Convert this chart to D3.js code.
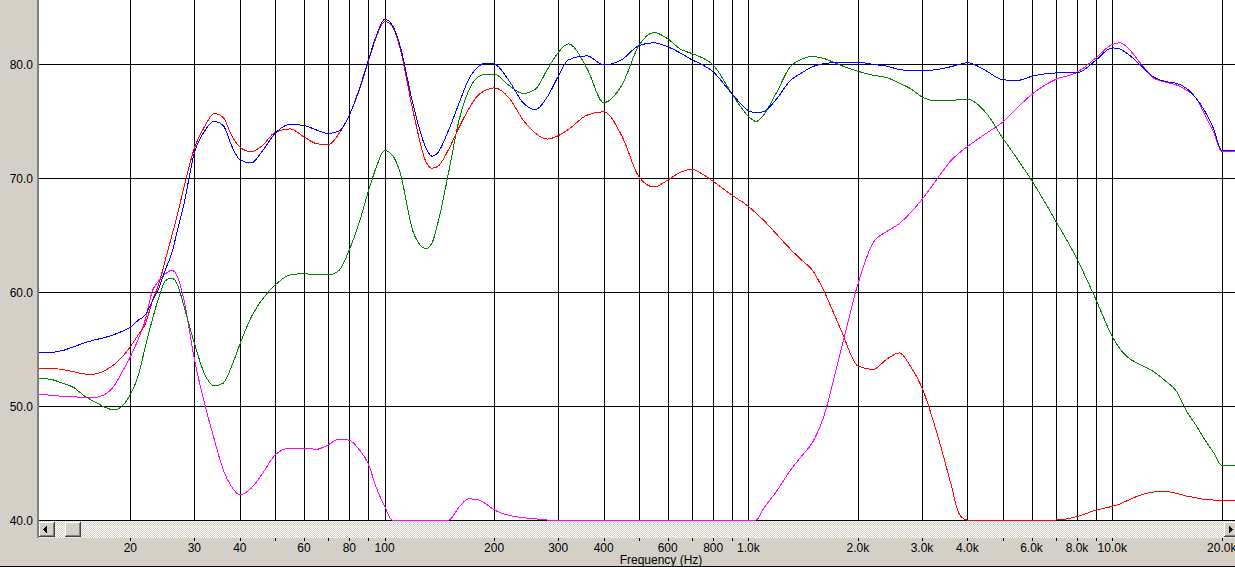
<!DOCTYPE html>
<html><head><meta charset="utf-8">
<script src="https://cdn.jsdelivr.net/npm/d3@7"></script>
<style>
html,body{margin:0;padding:0;overflow:hidden;background:#d4d0c8}
svg{display:block}
text{font-family:"Liberation Sans",Arial,sans-serif;font-size:12px;fill:#000}
</style>
</head><body>
<svg id="chart" width="1235" height="567"></svg>
<script>
// ---------- data ----------
const freqs = [11.15,12,13,14,15,16,17,18,19,20,21,22,23,24,25,26,27,28,30,32,34,36,38,40,43,46,50,55,60,65,70,75,80,85,90,95,100,105,110,120,130,135,140,150,160,170,180,190,200,220,240,260,280,300,320,360,400,450,500,550,600,650,700,750,800,900,1000,1050,1100,1200,1300,1400,1500,1600,1800,2000,2200,2400,2600,2800,3000,3300,3600,3800,4000,4500,5000,5500,6000,7000,8000,9000,10000,10500,11000,12000,13000,14000,15000,16000,17000,18000,19000,20000,21750];

const blueDb = [54.7,54.7,54.85,55.2,55.55,55.8,56.0,56.25,56.55,56.9,57.5,58.0,59.2,60.4,62.0,63.4,65.5,67.5,72.2,74.1,74.95,74.6,72.8,71.6,71.3,72.3,73.9,74.7,74.6,74.2,73.9,74.1,75.5,77.7,80.2,82.5,83.9,83.4,81.7,76.3,72.6,71.9,72.2,74.2,76.5,78.6,79.7,80.05,80.0,78.5,76.6,76.0,77.1,78.9,80.35,80.7,79.9,80.4,81.6,81.85,81.5,80.95,80.35,79.9,79.3,77.4,75.9,75.7,75.8,77.0,78.5,79.2,79.75,80.0,80.15,80.15,79.95,79.8,79.5,79.4,79.4,79.5,79.75,79.95,80.1,79.4,78.6,78.55,78.9,79.2,79.2,80.3,81.4,81.3,80.9,79.85,78.85,78.45,78.3,77.85,77.0,75.8,74.3,72.4,72.4];

const redDb = [53.3,53.3,53.2,53.0,52.8,52.8,53.1,53.6,54.3,55.2,56.2,57.2,59.2,60.8,62.9,64.9,66.9,69.0,72.6,74.5,75.65,75.3,73.7,72.7,72.3,72.8,74.0,74.3,73.6,73.0,72.9,73.9,75.5,77.6,80.1,82.4,83.7,83.3,81.5,75.7,71.4,70.85,71.0,72.5,74.4,76.0,77.2,77.7,77.9,77.0,75.1,73.9,73.4,73.7,74.25,75.5,75.8,73.6,70.1,69.2,69.8,70.5,70.75,70.3,69.7,68.5,67.5,66.9,66.3,65.0,63.8,62.8,61.9,60.3,56.6,53.5,53.2,54.1,54.65,53.4,51.6,47.6,43.2,40.5,38,37,37,37,37,37,40.3,40.85,41.2,41.4,41.7,42.2,42.45,42.5,42.35,42.1,41.95,41.8,41.75,41.75,41.75];

const greenDb = [52.4,52.35,52.0,51.6,50.85,50.35,49.9,49.65,50.0,51.0,52.6,55.2,57.6,59.6,61.0,61.2,60.6,58.9,55.5,52.8,51.75,52.0,53.5,55.4,57.8,59.3,60.6,61.5,61.6,61.5,61.5,61.9,63.7,66.0,68.7,71.0,72.4,72.0,70.6,65.2,63.8,64.3,66.0,70.5,75.0,77.6,78.8,79.1,79.1,78.1,77.4,77.8,79.5,81.0,81.75,79.6,76.6,78.2,81.6,82.75,82.2,81.3,80.9,80.5,79.9,77.4,75.4,74.95,75.5,77.6,79.7,80.4,80.65,80.5,79.85,79.35,79.0,78.8,78.3,77.8,77.1,76.75,76.8,76.85,76.9,75.7,73.5,71.6,69.8,66.2,62.9,59.4,56.1,55.0,54.3,53.6,53.0,52.2,51.3,49.55,48.3,47.0,45.9,44.8,44.8];

const magentaDb = [51.0,50.95,50.85,50.8,50.75,50.75,51.0,51.7,53.0,54.3,55.8,57.6,60.1,61.0,61.6,61.9,61.3,59.5,54.1,50.2,47.1,44.4,42.9,42.2,42.8,44.0,45.7,46.3,46.3,46.2,46.6,47.1,47.0,46.2,45.0,42.8,41.2,40.0,39.5,39,39,39,39,40.0,41.1,41.85,41.8,41.4,40.9,40.4,40.2,40.1,39.5,39,39,39,39,39,39,39,39,39,39,39,39,39,39,39.8,41.0,42.6,44.3,45.6,46.8,48.8,55.0,60.7,64.3,65.3,66.0,67.0,68.1,69.9,71.5,72.2,72.75,73.9,74.9,76.2,77.3,78.65,79.25,80.5,81.7,81.85,81.45,80.0,78.75,78.4,78.15,77.7,77.0,75.5,74.0,72.3,72.3];

const yTickValues = [40,50,60,70,80];
const xGridValues = [20,30,40,50,60,70,80,90,100,200,300,400,500,600,700,800,900,1000,2000,3000,4000,5000,6000,7000,8000,9000,10000,20000];
const xLabelValues = [20,30,40,60,80,100,200,300,400,600,800,1000,2000,3000,4000,6000,8000,10000,20000];
const xLabelTexts = ["20","30","40","60","80","100","200","300","400","600","800","1.0k","2.0k","3.0k","4.0k","6.0k","8.0k","10.0k","20.0k"];
const xTitle = "Frequency (Hz)";

const seriesList = [
  {name:"magenta", values: magentaDb, color:"#ff00ff"},
  {name:"green", values: greenDb, color:"#008000"},
  {name:"red", values: redDb, color:"#ff0000"},
  {name:"blue", values: blueDb, color:"#0000ff"}
];

// ---------- layout ----------
const W = 1235, H = 567;
const plotL = 38, plotR = 1235, plotT = 0, plotB = 520;
const svg = d3.select("#chart");

const x = d3.scaleLog().domain([11.15, 21750]).range([plotL, plotR]);
const y = d3.scaleLinear().domain([40, 85.6]).range([plotB, plotT]).clamp(true);
const px = v => Math.round(v) + 0.5;

// background
svg.append("rect").attr("x",0).attr("y",0).attr("width",W).attr("height",H).attr("fill","#d4d0c8");
svg.append("rect").attr("x",plotL).attr("y",plotT).attr("width",plotR-plotL).attr("height",plotB-plotT).attr("fill","#ffffff");

// grid
const grid = svg.append("g").attr("stroke","#000").attr("stroke-width",1).attr("shape-rendering","crispEdges");
grid.selectAll("line.h").data(yTickValues).enter().append("line")
  .attr("x1",plotL).attr("x2",plotR)
  .attr("y1",d=>px(y(d))).attr("y2",d=>px(y(d)));
grid.selectAll("line.v").data(xGridValues).enter().append("line")
  .attr("x1",d=>px(x(d))).attr("x2",d=>px(x(d)))
  .attr("y1",plotT).attr("y2",plotB);

// curves
svg.append("clipPath").attr("id","plotclip").append("rect")
  .attr("x",plotL).attr("y",plotT).attr("width",plotR-plotL).attr("height",plotB-plotT+1.5);
const line = d3.line().x((d,i)=>x(freqs[i])).y(d=>y(d)).curve(d3.curveMonotoneX);
svg.append("g").attr("clip-path","url(#plotclip)")
  .selectAll("path").data(seriesList).enter().append("path")
  .attr("d",d=>line(d.values))
  .attr("fill","none").attr("stroke",d=>d.color).attr("stroke-width",1)
  .attr("shape-rendering","crispEdges");

// scrollbar
const defs = svg.append("defs");
const pat = defs.append("pattern").attr("id","dither").attr("width",2).attr("height",2).attr("patternUnits","userSpaceOnUse");
pat.append("rect").attr("width",2).attr("height",2).attr("fill","#d4d0c8");
pat.append("rect").attr("x",0).attr("y",0).attr("width",1).attr("height",1).attr("fill","#ffffff");
pat.append("rect").attr("x",1).attr("y",1).attr("width",1).attr("height",1).attr("fill","#ffffff");
const sbT = plotB + 1, sbH = 17;
svg.append("rect").attr("x",plotL).attr("y",sbT).attr("width",plotR-plotL).attr("height",sbH).attr("fill","url(#dither)");

function button(bx, by, bw, bh){
  const g = svg.append("g").attr("shape-rendering","crispEdges");
  g.append("rect").attr("x",bx).attr("y",by).attr("width",bw).attr("height",bh).attr("fill","#d4d0c8");
  g.append("path").attr("d",`M${bx+0.5},${by+bh-1}V${by+0.5}H${bx+bw-1}`).attr("stroke","#ffffff").attr("fill","none");
  g.append("path").attr("d",`M${bx},${by+bh-0.5}H${bx+bw-0.5}V${by}`).attr("stroke","#404040").attr("fill","none");
  g.append("path").attr("d",`M${bx+1},${by+bh-1.5}H${bx+bw-1.5}V${by+1}`).attr("stroke","#808080").attr("fill","none");
  return g;
}
button(39, 522, 16, 15).append("path").attr("d","M43,529.5L47,525.5V533.5Z").attr("fill","#000");
button(65, 522, 16, 15);
button(1224, 522, 16, 15).append("path").attr("d","M1233,529.5L1229,525.5V533.5Z").attr("fill","#000");

// left separator
svg.append("rect").attr("x",37).attr("y",0).attr("width",2).attr("height",538).attr("fill","#808080");

// x ticks + labels
svg.append("g").attr("stroke","#000").attr("shape-rendering","crispEdges")
  .selectAll("line").data(xGridValues).enter().append("line")
  .attr("x1",d=>px(x(d))).attr("x2",d=>px(x(d))).attr("y1",538).attr("y2",541);
svg.append("g").selectAll("text").data(xLabelValues).enter().append("text")
  .attr("x",d=>x(d)).attr("y",552).attr("text-anchor","middle")
  .text((d,i)=>xLabelTexts[i]);
svg.append("text").attr("x",661).attr("y",564).attr("text-anchor","middle").text(xTitle);

// y labels
svg.append("g").selectAll("text").data(yTickValues).enter().append("text")
  .attr("x",33).attr("y",d=>y(d)+5).attr("text-anchor","end")
  .text(d=>d.toFixed(1));

// bottom frame line
svg.append("rect").attr("x",0).attr("y",566).attr("width",W).attr("height",1).attr("fill","#000");
</script>
</body></html>
